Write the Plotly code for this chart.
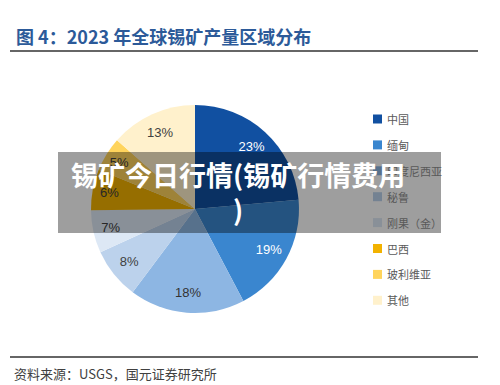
import plotly.graph_objects as go

# page body adds an 8px margin, so the figure is sized to fit the window
OFF = 8
W, H = 500 - OFF, 385 - OFF

# ---- data (shares; labels show rounded values) ----
regions = ["中国", "缅甸", "印度尼西亚", "秘鲁", "刚果（金）", "巴西", "玻利维亚", "其他"]
shares = [23.4, 18.6, 17.8, 7.9, 6.6, 6.3, 5.3, 13.4]
share_labels = ["23%", "19%", "18%", "8%", "7%", "6%", "5%", "13%"]
slice_colors = ["#1150A1", "#3A86CF", "#8DB6E3", "#BCD2EC", "#DDE8F5", "#F2B200", "#FFD45C", "#FFF1CC"]
label_colors = ["#FFFFFF", "#FFFFFF", "#333333", "#404040", "#404040", "#404040", "#404040", "#404040"]

title_text = "图 4：2023 年全球锡矿产量区域分布"
source_text = "资料来源：USGS，国元证券研究所"
banner_text = "锡矿今日行情(锡矿行情费用<br>)"

CJK = "Noto Sans CJK SC"


def px(x):
    return (x - OFF) / W


def py(y):
    return 1 - (y - OFF) / H


fig = go.Figure()

# pie geometry (window pixels): centre (195, 209), radius 104
cx, cy, r = 195, 209, 104
dom = dict(x=[px(cx - r), px(cx + r)], y=[py(cy + r), py(cy - r)])

# filled slices
fig.add_trace(go.Pie(
    labels=regions,
    values=shares,
    textinfo="none",
    marker=dict(colors=slice_colors, line=dict(width=0)),
    sort=False,
    direction="clockwise",
    rotation=0,
    showlegend=False,
    hoverinfo="label+percent",
    domain=dom,
))
# transparent ring carrying the percentage labels near the outer edge
fig.add_trace(go.Pie(
    labels=regions,
    values=shares,
    hole=0.62,
    text=share_labels,
    textinfo="text",
    textposition="inside",
    insidetextorientation="horizontal",
    textfont=dict(family="Liberation Sans, Arial", size=13, color=label_colors),
    marker=dict(colors=["rgba(0,0,0,0)"] * len(shares), line=dict(width=0)),
    sort=False,
    direction="clockwise",
    rotation=0,
    showlegend=False,
    hoverinfo="skip",
    domain=dom,
))

shapes = []
annotations = []

# title + rules
annotations.append(dict(
    x=px(14), y=py(36), xref="paper", yref="paper", xanchor="left", yanchor="middle",
    text=f"<b>{title_text}</b>", showarrow=False,
    font=dict(family=CJK, size=18, color="#2C5A99"),
))
shapes.append(dict(type="line", xref="paper", yref="paper",
                   x0=px(10), x1=px(478), y0=py(51), y1=py(51),
                   line=dict(color="#333333", width=1.5)))
shapes.append(dict(type="line", xref="paper", yref="paper",
                   x0=px(10), x1=px(478), y0=py(357), y1=py(357),
                   line=dict(color="#333333", width=1.5)))
annotations.append(dict(
    x=px(12), y=py(373), xref="paper", yref="paper", xanchor="left", yanchor="middle",
    text=source_text, showarrow=False,
    font=dict(family=CJK, size=13, color="#404040"),
))

# legend (built from the category list)
lx, ly0, lstep = 373, 119, 25.9
for i, (name, col) in enumerate(zip(regions, slice_colors)):
    yc = ly0 + i * lstep
    shapes.append(dict(type="rect", xref="paper", yref="paper",
                       x0=px(lx), x1=px(lx + 9), y0=py(yc + 4.5), y1=py(yc - 4.5),
                       fillcolor=col, line=dict(width=0)))
    annotations.append(dict(
        x=px(lx + 12), y=py(yc), xref="paper", yref="paper", xanchor="left", yanchor="middle",
        text=name, showarrow=False,
        font=dict(family=CJK, size=11, color="#595959"),
    ))

# overlay banner
shapes.append(dict(type="rect", xref="paper", yref="paper",
                   x0=px(58), x1=px(441), y0=py(233), y1=py(152),
                   fillcolor="rgba(0,0,0,0.38)", line=dict(width=0), layer="above"))
annotations.append(dict(
    x=px(238), y=py(192), xref="paper", yref="paper", xanchor="center", yanchor="middle",
    text=f"<b>{banner_text}</b>", showarrow=False, align="center",
    font=dict(family=CJK, size=27, color="#FFFFFF"),
))

fig.update_layout(
    width=W, height=H,
    margin=dict(l=0, r=0, t=0, b=0),
    paper_bgcolor="white", plot_bgcolor="white",
    shapes=shapes, annotations=annotations,
)

fig.write_html("out.html")
